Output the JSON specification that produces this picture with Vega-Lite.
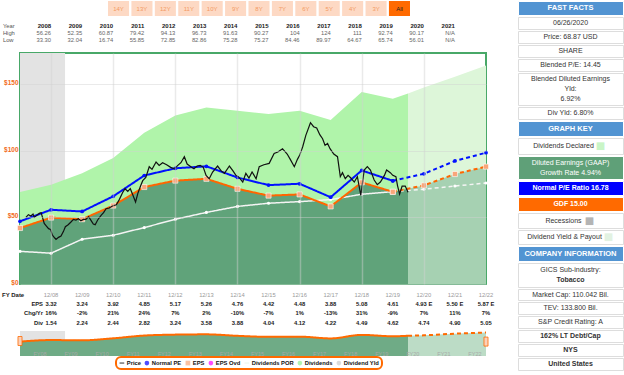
{
"$schema": "https://vega.github.io/schema/vega-lite/v6.json",
"padding": {"left": 1, "top": 0, "right": 0, "bottom": 0},
"config": {"font": "Liberation Sans", "view": {"stroke": null}, "legend": {"strokeWidth": 2}},
"datasets": {
"price": [
{"t":2008.19,"p":50},{"t":2008.27,"p":52},{"t":2008.35,"p":51},{"t":2008.42,"p":52.5},{"t":2008.46,"p":50},{"t":2008.54,"p":51.5},{"t":2008.62,"p":53},{"t":2008.68,"p":53.5},{"t":2008.73,"p":49.5},{"t":2008.78,"p":45.5},{"t":2008.85,"p":43.5},{"t":2008.92,"p":41.5},{"t":2008.98,"p":41},
{"t":2009.05,"p":36.5},{"t":2009.12,"p":34.5},{"t":2009.16,"p":33.5},{"t":2009.24,"p":35},{"t":2009.32,"p":36},{"t":2009.40,"p":39.5},{"t":2009.46,"p":43},{"t":2009.55,"p":44.5},{"t":2009.64,"p":46.5},{"t":2009.72,"p":48.5},{"t":2009.80,"p":48},{"t":2009.88,"p":49},{"t":2009.96,"p":47.5},
{"t":2010.04,"p":48.5},{"t":2010.12,"p":48.5},{"t":2010.21,"p":50.5},{"t":2010.29,"p":47.5},{"t":2010.36,"p":45},{"t":2010.42,"p":44.5},{"t":2010.50,"p":48},{"t":2010.61,"p":51.5},{"t":2010.69,"p":53.5},{"t":2010.77,"p":56.5},{"t":2010.87,"p":57},{"t":2010.98,"p":58.5},
{"t":2011.10,"p":59.5},{"t":2011.20,"p":63.5},{"t":2011.30,"p":68.5},{"t":2011.38,"p":71.5},{"t":2011.47,"p":69.5},{"t":2011.55,"p":71.5},{"t":2011.62,"p":67.5},{"t":2011.72,"p":61.5},{"t":2011.80,"p":68.5},{"t":2011.88,"p":73.5},{"t":2011.95,"p":77.5},
{"t":2012.05,"p":80},{"t":2012.16,"p":88},{"t":2012.25,"p":86},{"t":2012.38,"p":91.5},{"t":2012.48,"p":89},{"t":2012.59,"p":91},{"t":2012.72,"p":89.5},{"t":2012.85,"p":87.5},{"t":2012.97,"p":86.5},
{"t":2013.08,"p":89},{"t":2013.18,"p":91},{"t":2013.29,"p":95.5},{"t":2013.38,"p":90},{"t":2013.50,"p":88},{"t":2013.60,"p":86.5},{"t":2013.70,"p":88.5},{"t":2013.80,"p":89},{"t":2013.90,"p":87.5},{"t":2013.99,"p":81.5},
{"t":2014.09,"p":79},{"t":2014.20,"p":84},{"t":2014.36,"p":88.5},{"t":2014.47,"p":85},{"t":2014.58,"p":83},{"t":2014.74,"p":88.5},{"t":2014.85,"p":85},{"t":2014.95,"p":81.5},
{"t":2015.05,"p":80},{"t":2015.17,"p":76.5},{"t":2015.27,"p":83},{"t":2015.37,"p":79.5},{"t":2015.47,"p":84},{"t":2015.60,"p":79},{"t":2015.70,"p":88},{"t":2015.85,"p":89.5},
{"t":2016.02,"p":90.5},{"t":2016.18,"p":98},{"t":2016.30,"p":99},{"t":2016.45,"p":101.5},{"t":2016.60,"p":97.5},{"t":2016.70,"p":93.5},{"t":2016.83,"p":88},{"t":2016.93,"p":93.5},
{"t":2017.00,"p":96.5},{"t":2017.10,"p":103},{"t":2017.20,"p":111.5},{"t":2017.35,"p":121},{"t":2017.45,"p":118},{"t":2017.55,"p":117},{"t":2017.65,"p":112},{"t":2017.74,"p":109},{"t":2017.82,"p":104},{"t":2017.90,"p":105.5},{"t":2017.98,"p":101.5},
{"t":2018.10,"p":97.5},{"t":2018.22,"p":95.5},{"t":2018.31,"p":80.5},{"t":2018.38,"p":83.5},{"t":2018.47,"p":79},{"t":2018.56,"p":81.5},{"t":2018.65,"p":79.5},{"t":2018.76,"p":76.5},{"t":2018.86,"p":80.5},{"t":2018.97,"p":66.5},
{"t":2019.08,"p":85.5},{"t":2019.18,"p":88},{"t":2019.28,"p":85.5},{"t":2019.40,"p":78},{"t":2019.50,"p":74.5},{"t":2019.60,"p":76.5},{"t":2019.73,"p":81.5},{"t":2019.80,"p":85.5},{"t":2019.92,"p":83.5},
{"t":2020.00,"p":81.5},{"t":2020.10,"p":80.5},{"t":2020.15,"p":74},{"t":2020.22,"p":67.5},{"t":2020.30,"p":73.5},{"t":2020.40,"p":73.5},{"t":2020.49,"p":68.87}
],
"fund": [
{"t":2008,"normal":47,"gdf":42,"div":24.5,"ph":"a"},
{"t":2009,"normal":55.7,"gdf":49.8,"div":23.1,"ph":"a"},
{"t":2010,"normal":54.4,"gdf":48.6,"div":33.6,"ph":"a"},
{"t":2011,"normal":65.8,"gdf":58.8,"div":36.6,"ph":"a"},
{"t":2012,"normal":81.4,"gdf":72.75,"div":42.3,"ph":"a"},
{"t":2013,"normal":86.8,"gdf":77.55,"div":48.6,"ph":"a"},
{"t":2014,"normal":88.3,"gdf":78.9,"div":53.7,"ph":"a"},
{"t":2015,"normal":79.9,"gdf":71.4,"div":58.2,"ph":"a"},
{"t":2016,"normal":74.2,"gdf":66.3,"div":60.6,"ph":"a"},
{"t":2017,"normal":75.2,"gdf":67.2,"div":61.8,"ph":"a"},
{"t":2018,"normal":65.1,"gdf":58.2,"div":63.3,"ph":"a"},
{"t":2019,"normal":85.2,"gdf":76.2,"div":67.35,"ph":"a"},
{"t":2020,"normal":77.4,"gdf":69.15,"div":69.3,"ph":"a"},
{"t":2020,"normal":77.4,"gdf":69.15,"div":69.3,"ph":"f"},
{"t":2021,"normal":82.7,"gdf":73.95,"div":71.1,"ph":"f"},
{"t":2022,"normal":92.3,"gdf":82.5,"div":73.5,"ph":"f"},
{"t":2023,"normal":98.5,"gdf":88.05,"div":75.75,"ph":"f"}
],
"areas": [
{"t":2008,"top":69,"gdf":42,"ph":"a"},
{"t":2009,"top":74.5,"gdf":49.8,"ph":"a"},
{"t":2010,"top":83,"gdf":48.6,"ph":"a"},
{"t":2011,"top":94.5,"gdf":58.8,"ph":"a"},
{"t":2012,"top":113.5,"gdf":72.75,"ph":"a"},
{"t":2013,"top":126.5,"gdf":77.55,"ph":"a"},
{"t":2014,"top":132.5,"gdf":78.9,"ph":"a"},
{"t":2015,"top":130,"gdf":71.4,"ph":"a"},
{"t":2016,"top":127.5,"gdf":66.3,"ph":"a"},
{"t":2017,"top":130,"gdf":67.2,"ph":"a"},
{"t":2018,"top":123,"gdf":58.2,"ph":"a"},
{"t":2019,"top":144,"gdf":76.2,"ph":"a"},
{"t":2020,"top":139,"gdf":69.15,"ph":"a"},
{"t":2020.49,"top":143,"gdf":71.5,"ph":"a"},
{"t":2020.49,"top":143,"gdf":71.5,"ph":"f"},
{"t":2021,"top":147.5,"gdf":73.95,"ph":"f"},
{"t":2022,"top":155.5,"gdf":82.5,"ph":"f"},
{"t":2023,"top":164,"gdf":88.05,"ph":"f"}
],
"navEps": [
{"t":2008,"eps":2.78,"ph":"a"},{"t":2009,"eps":3.32,"ph":"a"},{"t":2010,"eps":3.24,"ph":"a"},{"t":2011,"eps":3.92,"ph":"a"},{"t":2012,"eps":4.85,"ph":"a"},{"t":2013,"eps":5.17,"ph":"a"},{"t":2014,"eps":5.26,"ph":"a"},{"t":2015,"eps":4.76,"ph":"a"},{"t":2016,"eps":4.42,"ph":"a"},{"t":2017,"eps":4.48,"ph":"a"},{"t":2018,"eps":3.88,"ph":"a"},{"t":2019,"eps":5.08,"ph":"a"},{"t":2020,"eps":4.61,"ph":"a"},{"t":2020.49,"eps":4.77,"ph":"a"},
{"t":2020.49,"eps":4.77,"ph":"f"},{"t":2021,"eps":4.93,"ph":"f"},{"t":2022,"eps":5.50,"ph":"f"},{"t":2023,"eps":5.87,"ph":"f"}
],
"fy": [
{"FY":2008,"FY Date":"12/08","EPS":"3.32","Chg/Yr":"16%","Div":"1.54","Nav":"FY08"},
{"FY":2009,"FY Date":"12/09","EPS":"3.24","Chg/Yr":"-2%","Div":"2.24","Nav":"FY09"},
{"FY":2010,"FY Date":"12/10","EPS":"3.92","Chg/Yr":"21%","Div":"2.44","Nav":"FY10"},
{"FY":2011,"FY Date":"12/11","EPS":"4.85","Chg/Yr":"24%","Div":"2.82","Nav":"FY11"},
{"FY":2012,"FY Date":"12/12","EPS":"5.17","Chg/Yr":"7%","Div":"3.24","Nav":"FY12"},
{"FY":2013,"FY Date":"12/13","EPS":"5.26","Chg/Yr":"2%","Div":"3.58","Nav":"FY13"},
{"FY":2014,"FY Date":"12/14","EPS":"4.76","Chg/Yr":"-10%","Div":"3.88","Nav":"FY14"},
{"FY":2015,"FY Date":"12/15","EPS":"4.42","Chg/Yr":"-7%","Div":"4.04","Nav":"FY15"},
{"FY":2016,"FY Date":"12/16","EPS":"4.48","Chg/Yr":"1%","Div":"4.12","Nav":"FY16"},
{"FY":2017,"FY Date":"12/17","EPS":"3.88","Chg/Yr":"-13%","Div":"4.22","Nav":"FY17"},
{"FY":2018,"FY Date":"12/18","EPS":"5.08","Chg/Yr":"31%","Div":"4.49","Nav":"FY18"},
{"FY":2019,"FY Date":"12/19","EPS":"4.61","Chg/Yr":"-9%","Div":"4.62","Nav":"FY19"},
{"FY":2020,"FY Date":"12/20","EPS":"4.93 E","Chg/Yr":"7%","Div":"4.74","Nav":"FY20"},
{"FY":2021,"FY Date":"12/21","EPS":"5.50 E","Chg/Yr":"11%","Div":"4.90","Nav":"FY21"},
{"FY":2022,"FY Date":"12/22","EPS":"5.87 E","Chg/Yr":"7%","Div":"5.05","Nav":"FY22"}
],
"hilo": [
{"Year":2008,"High":"56.26","Low":"33.30"},
{"Year":2009,"High":"52.35","Low":"32.04"},
{"Year":2010,"High":"60.87","Low":"16.74"},
{"Year":2011,"High":"79.42","Low":"55.85"},
{"Year":2012,"High":"94.13","Low":"72.85"},
{"Year":2013,"High":"96.73","Low":"82.86"},
{"Year":2014,"High":"91.63","Low":"75.28"},
{"Year":2015,"High":"90.27","Low":"75.27"},
{"Year":2016,"High":"104","Low":"84.46"},
{"Year":2017,"High":"124","Low":"89.97"},
{"Year":2018,"High":"111","Low":"64.67"},
{"Year":2019,"High":"92.74","Low":"65.74"},
{"Year":2020,"High":"90.17","Low":"56.01"},
{"Year":2021,"High":"N/A","Low":"N/A"}
]
},
"spacing": 22,
"hconcat": [
{"spacing": 0, "vconcat": [
 {"width": 466, "height": 15,
  "data": {"values": [{"b":"14Y"},{"b":"13Y"},{"b":"12Y"},{"b":"11Y"},{"b":"10Y"},{"b":"9Y"},{"b":"8Y"},{"b":"7Y"},{"b":"6Y"},{"b":"5Y"},{"b":"4Y"},{"b":"3Y"},{"b":"All"}]},
  "layer": [
   {"mark": {"type": "rect"},
    "encoding": {"x": {"field": "b", "type": "ordinal", "sort": null, "scale": {"range": [88, 390], "paddingInner": 0.1, "paddingOuter": 0}, "axis": null},
                 "color": {"condition": {"test": "datum.b === 'All'", "value": "#ff6a00"}, "value": "#fdd9c4"}}},
   {"mark": {"type": "text", "fontSize": 6},
    "encoding": {"x": {"field": "b", "type": "ordinal", "sort": null}, "text": {"field": "b", "type": "nominal"},
                 "color": {"condition": {"test": "datum.b === 'All'", "value": "#222222"}, "value": "#f39a63"}}}
  ]},
 {"width": 466, "height": 36,
  "data": {"name": "hilo"},
  "layer": [
   {"mark": {"type": "text", "align": "right", "fontSize": 6, "fontWeight": "bold", "color": "#222222"},
    "encoding": {"x": {"field": "Year", "type": "quantitative", "scale": {"domain": [2007, 2022], "nice": false, "zero": false}, "axis": null},
                 "y": {"datum": "Year", "type": "nominal", "scale": {"domain": ["Year", "High", "Low"], "range": [10, 24], "padding": 0}, "axis": null},
                 "text": {"field": "Year", "type": "nominal"}}},
   {"transform": [{"fold": ["High", "Low"], "as": ["row", "val"]}],
    "mark": {"type": "text", "align": "right", "fontSize": 5.8, "color": "#666666"},
    "encoding": {"x": {"field": "Year", "type": "quantitative"}, "y": {"field": "row", "type": "nominal"}, "text": {"field": "val", "type": "nominal"}}},
   {"data": {"values": [{"row": "Year"}, {"row": "High"}, {"row": "Low"}]},
    "mark": {"type": "text", "align": "left", "fontSize": 5.8, "color": "#555555"},
    "encoding": {"x": {"datum": 2006.45, "type": "quantitative"}, "y": {"field": "row", "type": "nominal"}, "text": {"field": "row", "type": "nominal"}}}
  ]},
 {"width": 466, "height": 231,
  "view": {"stroke": "#48a868", "strokeWidth": 2},
  "resolve": {"scale": {"color": "independent"}},
  "layer": [
   {"data": {"values": [{"s": 2008, "e": 2009.45}]},
    "mark": {"type": "rect", "color": "#e3e3e3"},
    "encoding": {"x": {"field": "s", "type": "quantitative", "scale": {"domain": [2008, 2023], "nice": false, "zero": false},
                       "axis": {"values": [2009,2010,2011,2012,2013,2014,2015,2016,2017,2018,2019,2020,2021,2022], "labels": false, "ticks": false, "domain": false, "title": null, "grid": true, "gridColor": "#d0d0d0", "gridOpacity": 0.45, "gridWidth": 1.5, "zindex": 1}},
                 "x2": {"field": "e"}}},
   {"data": {"name": "areas"},
    "mark": {"type": "area"},
    "encoding": {"x": {"field": "t", "type": "quantitative"},
                 "y": {"field": "top", "type": "quantitative", "stack": null, "scale": {"domain": [0, 173.3], "nice": false},
                       "axis": {"values": [0,25,50,75,100,125,150], "labelExpr": "'$' + datum.value", "labelColor": "#f26b1d", "labelFontWeight": "bold", "labelFontSize": 6.5, "labelOffset": -1.5, "ticks": false, "domain": false, "title": null, "grid": true, "gridColor": "#d0d0d0", "gridOpacity": 0.45, "gridWidth": 1, "labelPadding": 2, "zindex": 1}},
                 "color": {"field": "ph", "type": "nominal", "scale": {"domain": ["a", "f"], "range": ["#b0f4aa", "#ddf6d9"]}, "legend": null}}},
   {"data": {"name": "areas"},
    "mark": {"type": "area"},
    "encoding": {"x": {"field": "t", "type": "quantitative"},
                 "y": {"field": "gdf", "type": "quantitative", "stack": null},
                 "color": {"field": "ph", "type": "nominal", "scale": {"domain": ["a", "f"], "range": ["#60a37a", "#a6d1b2"]}, "legend": null}}},
   {"data": {"name": "fund"},
    "mark": {"type": "line", "color": "#f4f4f4", "strokeWidth": 1.5},
    "encoding": {"x": {"field": "t", "type": "quantitative"}, "y": {"field": "div", "type": "quantitative"},
                 "strokeDash": {"field": "ph", "type": "nominal", "scale": {"domain": ["a", "f"], "range": [[1, 0], [4, 3]]}, "legend": null}}},
   {"data": {"name": "fund"},
    "mark": {"type": "point", "filled": true, "color": "#ffffff", "size": 10, "opacity": 1},
    "encoding": {"x": {"field": "t", "type": "quantitative"}, "y": {"field": "div", "type": "quantitative"}}},
   {"data": {"name": "fund"},
    "mark": {"type": "line", "color": "#ff6600", "strokeWidth": 2},
    "encoding": {"x": {"field": "t", "type": "quantitative"}, "y": {"field": "gdf", "type": "quantitative"},
                 "strokeDash": {"field": "ph", "type": "nominal", "scale": {"domain": ["a", "f"], "range": [[1, 0], [4, 3]]}, "legend": null}}},
   {"data": {"name": "fund"},
    "mark": {"type": "point", "shape": "square", "filled": true, "color": "#f9a67a", "stroke": "#ffffff", "strokeWidth": 0.6, "size": 26, "opacity": 1},
    "encoding": {"x": {"field": "t", "type": "quantitative"}, "y": {"field": "gdf", "type": "quantitative"}}},
   {"data": {"name": "fund"},
    "mark": {"type": "line", "color": "#0011ff", "strokeWidth": 2},
    "encoding": {"x": {"field": "t", "type": "quantitative"}, "y": {"field": "normal", "type": "quantitative"},
                 "strokeDash": {"field": "ph", "type": "nominal", "scale": {"domain": ["a", "f"], "range": [[1, 0], [4, 3]]}, "legend": null}}},
   {"data": {"name": "fund"},
    "mark": {"type": "point", "filled": true, "color": "#0011ff", "size": 14, "opacity": 1},
    "encoding": {"x": {"field": "t", "type": "quantitative"}, "y": {"field": "normal", "type": "quantitative"}}},
   {"data": {"name": "price"},
    "mark": {"type": "line", "color": "#111111", "strokeWidth": 1.2},
    "encoding": {"x": {"field": "t", "type": "quantitative"}, "y": {"field": "p", "type": "quantitative"}}}
  ]},
 {"width": 466, "height": 41,
  "data": {"name": "fy"},
  "transform": [{"fold": ["FY Date", "EPS", "Chg/Yr", "Div"], "as": ["row", "val"]}],
  "layer": [
   {"transform": [{"filter": "datum.row === 'FY Date'"}],
    "mark": {"type": "text", "align": "center", "fontSize": 5.8, "color": "#9a9a9a"},
    "encoding": {"x": {"field": "FY", "type": "quantitative", "scale": {"domain": [2007, 2022], "nice": false, "zero": false}, "axis": null},
                 "y": {"field": "row", "type": "nominal", "scale": {"domain": ["FY Date", "EPS", "Chg/Yr", "Div"], "range": [7.5, 35.5], "padding": 0}, "axis": null},
                 "text": {"field": "val", "type": "nominal"}}},
   {"transform": [{"filter": "datum.row !== 'FY Date'"}],
    "mark": {"type": "text", "align": "center", "fontSize": 5.8, "fontWeight": "bold", "color": "#1a1a1a"},
    "encoding": {"x": {"field": "FY", "type": "quantitative"}, "y": {"field": "row", "type": "nominal"}, "text": {"field": "val", "type": "nominal"}}},
   {"data": {"values": [{"row": "FY Date"}]},
    "mark": {"type": "text", "align": "left", "fontSize": 6, "fontWeight": "bold", "color": "#1a1a1a"},
    "encoding": {"x": {"datum": 2006.42, "type": "quantitative"}, "y": {"field": "row", "type": "nominal"}, "text": {"field": "row", "type": "nominal"}}},
   {"data": {"values": [{"row": "EPS"}, {"row": "Chg/Yr"}, {"row": "Div"}]},
    "mark": {"type": "text", "align": "right", "fontSize": 5.8, "fontWeight": "bold", "color": "#1a1a1a"},
    "encoding": {"x": {"datum": 2007.74, "type": "quantitative"}, "y": {"field": "row", "type": "nominal"}, "text": {"field": "row", "type": "nominal"}}}
  ]},
 {"width": 466, "height": 25,
  "resolve": {"scale": {"color": "independent"}},
  "layer": [
   {"data": {"values": [{"s": 2008, "e": 2009.45}]},
    "mark": {"type": "rect", "color": "#e3e3e3"},
    "encoding": {"x": {"field": "s", "type": "quantitative", "scale": {"domain": [2008, 2023], "nice": false, "zero": false}, "axis": null},
                 "x2": {"field": "e"},
                 "y": {"datum": 6.4, "type": "quantitative", "scale": {"domain": [-2.1, 6.4], "nice": false, "zero": false}, "axis": null},
                 "y2": {"datum": 3.0}}},
   {"data": {"name": "navEps"},
    "mark": {"type": "area", "interpolate": "monotone"},
    "encoding": {"x": {"field": "t", "type": "quantitative"}, "y": {"field": "eps", "type": "quantitative", "stack": null}, "y2": {"datum": -2.1},
                 "color": {"field": "ph", "type": "nominal", "scale": {"domain": ["a", "f"], "range": ["#6fab86", "#bcdcc6"]}, "legend": null}}},
   {"data": {"name": "navEps"},
    "mark": {"type": "line", "interpolate": "monotone", "color": "#ff6a00", "strokeWidth": 2},
    "encoding": {"x": {"field": "t", "type": "quantitative"}, "y": {"field": "eps", "type": "quantitative"},
                 "strokeDash": {"field": "ph", "type": "nominal", "scale": {"domain": ["a", "f"], "range": [[1, 0], [4, 3]]}, "legend": null}}},
   {"data": {"name": "fy"},
    "mark": {"type": "text", "fontSize": 5.5, "color": "#a8a8a8", "dx": 20},
    "encoding": {"x": {"field": "FY", "type": "quantitative"}, "y": {"datum": -1.4, "type": "quantitative"}, "text": {"field": "Nav", "type": "nominal"}}},
   {"data": {"values": [{"t": 2008, "v": 3.0}, {"t": 2023, "v": 2.8}]},
    "mark": {"type": "point", "filled": true, "shape": "M-0.45,-1L0.45,-1L0.45,1L-0.45,1Z", "size": 81, "color": "#fbd0b8", "stroke": "#ff6a00", "strokeWidth": 0.8, "opacity": 1},
    "encoding": {"x": {"field": "t", "type": "quantitative"}, "y": {"field": "v", "type": "quantitative"}}}
  ]},
 {"width": 466, "height": 18,
  "data": {"values": [{"item": "Price"}]},
  "transform": [{"filter": "false"}],
  "mark": {"type": "point", "filled": true},
  "encoding": {
   "color": {"field": "item", "type": "nominal",
             "scale": {"domain": ["Price", "Normal PE", "EPS", "EPS Ovd", "Dividends POR", "Dividends", "Dividend Yld"],
                       "range": ["#000000", "#0000ff", "#f9a67a", "#ff00ff", "#e4f4e4", "#90ee90", "#cccccc"]},
             "legend": {"orient": "none", "legendX": 96, "legendY": 356, "direction": "horizontal", "title": null, "strokeColor": "#ff6a00", "cornerRadius": 5, "padding": 3, "fillColor": "#ffffff", "labelFontSize": 5.8, "labelFontWeight": "bold", "labelColor": "#111111", "symbolSize": 22, "columnPadding": 3, "labelOffset": 2, "symbolStrokeWidth": 0}},
   "shape": {"field": "item", "type": "nominal",
             "scale": {"domain": ["Price", "Normal PE", "EPS", "EPS Ovd", "Dividends POR", "Dividends", "Dividend Yld"],
                       "range": ["M-1,-0.25L1,-0.25L1,0.25L-1,0.25Z", "circle", "square", "circle", "M-1,-0.25L1,-0.25L1,0.25L-1,0.25Z", "circle", "circle"]}}
  }}
]},
{"spacing": 0, "vconcat": [
 {"width": 105, "height": 14, "view": {"fill": "#5294d2", "stroke": "#ffffff"}, "data": {"values": [{}]}, "mark": {"type": "text", "text": "FAST FACTS", "fontSize": 7.5, "fontWeight": "bold", "color": "#ffffff"}, "encoding": {}},
 {"width": 105, "height": 12, "view": {"fill": "#ffffff", "stroke": "#dddddd"}, "data": {"values": [{}]}, "mark": {"type": "text", "text": "06/26/2020", "fontSize": 7, "color": "#333333"}, "encoding": {}},
 {"width": 105, "height": 12, "view": {"fill": "#ffffff", "stroke": "#dddddd"}, "data": {"values": [{}]}, "mark": {"type": "text", "text": "Price: 68.87 USD", "fontSize": 7, "color": "#333333"}, "encoding": {}},
 {"width": 105, "height": 12, "view": {"fill": "#ffffff", "stroke": "#dddddd"}, "data": {"values": [{}]}, "mark": {"type": "text", "text": "SHARE", "fontSize": 7, "color": "#333333"}, "encoding": {}},
 {"width": 105, "height": 12, "view": {"fill": "#ffffff", "stroke": "#dddddd"}, "data": {"values": [{}]}, "mark": {"type": "text", "text": "Blended P/E: 14.45", "fontSize": 7, "color": "#333333"}, "encoding": {}},
 {"width": 105, "height": 32, "view": {"fill": "#ffffff", "stroke": "#dddddd"}, "data": {"values": [{}]}, "mark": {"type": "text", "text": ["Blended Diluted Earnings", "Yld:", "6.92%"], "lineHeight": 10, "dy": -10, "fontSize": 7, "color": "#333333"}, "encoding": {}},
 {"width": 105, "height": 12, "view": {"fill": "#ffffff", "stroke": "#dddddd"}, "data": {"values": [{}]}, "mark": {"type": "text", "text": "Div Yld: 6.80%", "fontSize": 7, "color": "#333333"}, "encoding": {}},
 {"width": 105, "height": 15, "view": {"fill": "#5294d2", "stroke": "#ffffff"}, "data": {"values": [{}]}, "mark": {"type": "text", "text": "GRAPH KEY", "fontSize": 7.5, "fontWeight": "bold", "color": "#ffffff"}, "encoding": {}},
 {"width": 105, "height": 16, "view": {"fill": "#ffffff", "stroke": "#dddddd"}, "data": {"values": [{}]},
  "layer": [
   {"mark": {"type": "text", "text": "Dividends Declared", "fontSize": 7, "color": "#333333", "dx": -7}, "encoding": {}},
   {"mark": {"type": "text", "text": "■", "font": "DejaVu Sans", "fontSize": 10, "color": "#c9f5c6", "dx": 30}, "encoding": {}}
  ]},
 {"width": 105, "height": 23, "view": {"fill": "#5fa078", "stroke": "#ffffff"}, "data": {"values": [{}]}, "mark": {"type": "text", "text": ["Diluted Earnings (GAAP)", "Growth Rate 4.94%"], "lineHeight": 10, "dy": -5, "fontSize": 7, "color": "#ffffff"}, "encoding": {}},
 {"width": 105, "height": 14, "view": {"fill": "#0000ff", "stroke": "#ffffff"}, "data": {"values": [{}]}, "mark": {"type": "text", "text": "Normal P/E Ratio 16.78", "fontSize": 7, "fontWeight": "bold", "color": "#ffffff"}, "encoding": {}},
 {"width": 105, "height": 14, "view": {"fill": "#ff6a00", "stroke": "#ffffff"}, "data": {"values": [{}]}, "mark": {"type": "text", "text": "GDF 15.00", "fontSize": 7, "fontWeight": "bold", "color": "#ffffff"}, "encoding": {}},
 {"width": 105, "height": 15, "view": {"fill": "#ffffff", "stroke": "#dddddd"}, "data": {"values": [{}]},
  "layer": [
   {"mark": {"type": "text", "text": "Recessions", "fontSize": 7, "color": "#333333", "dx": -7}, "encoding": {}},
   {"mark": {"type": "text", "text": "■", "font": "DejaVu Sans", "fontSize": 10, "color": "#b4b4b4", "dx": 19}, "encoding": {}}
  ]},
 {"width": 105, "height": 14, "view": {"fill": "#ffffff", "stroke": "#dddddd"}, "data": {"values": [{}]},
  "layer": [
   {"mark": {"type": "text", "text": "Dividend Yield & Payout", "fontSize": 7, "color": "#333333", "dx": -6}, "encoding": {}},
   {"mark": {"type": "text", "text": "■", "font": "DejaVu Sans", "fontSize": 10, "color": "#e2f2e2", "dx": 38}, "encoding": {}}
  ]},
 {"width": 105, "height": 15, "view": {"fill": "#5294d2", "stroke": "#ffffff"}, "data": {"values": [{}]}, "mark": {"type": "text", "text": "COMPANY INFORMATION", "fontSize": 7.5, "fontWeight": "bold", "color": "#ffffff"}, "encoding": {}},
 {"width": 105, "height": 24, "view": {"fill": "#ffffff", "stroke": "#dddddd"}, "data": {"values": [{}]},
  "layer": [
   {"mark": {"type": "text", "text": "GICS Sub-industry:", "fontSize": 7, "color": "#333333", "dy": -5}, "encoding": {}},
   {"mark": {"type": "text", "text": "Tobacco", "fontSize": 7, "fontWeight": "bold", "color": "#333333", "dy": 5}, "encoding": {}}
  ]},
 {"width": 105, "height": 11, "view": {"fill": "#ffffff", "stroke": "#dddddd"}, "data": {"values": [{}]}, "mark": {"type": "text", "text": "Market Cap: 110.042 Bil.", "fontSize": 7, "color": "#333333"}, "encoding": {}},
 {"width": 105, "height": 12, "view": {"fill": "#ffffff", "stroke": "#dddddd"}, "data": {"values": [{}]}, "mark": {"type": "text", "text": "TEV: 133.800 Bil.", "fontSize": 7, "color": "#333333"}, "encoding": {}},
 {"width": 105, "height": 12, "view": {"fill": "#ffffff", "stroke": "#dddddd"}, "data": {"values": [{}]}, "mark": {"type": "text", "text": "S&P Credit Rating: A", "fontSize": 7, "color": "#333333"}, "encoding": {}},
 {"width": 105, "height": 12, "view": {"fill": "#ffffff", "stroke": "#dddddd"}, "data": {"values": [{}]}, "mark": {"type": "text", "text": "162% LT Debt/Cap", "fontSize": 7, "fontWeight": "bold", "color": "#333333"}, "encoding": {}},
 {"width": 105, "height": 12, "view": {"fill": "#ffffff", "stroke": "#dddddd"}, "data": {"values": [{}]}, "mark": {"type": "text", "text": "NYS", "fontSize": 7, "fontWeight": "bold", "color": "#333333"}, "encoding": {}},
 {"width": 105, "height": 12, "view": {"fill": "#ffffff", "stroke": "#dddddd"}, "data": {"values": [{}]}, "mark": {"type": "text", "text": "United States", "fontSize": 7, "fontWeight": "bold", "color": "#333333"}, "encoding": {}}
]}
]
}
